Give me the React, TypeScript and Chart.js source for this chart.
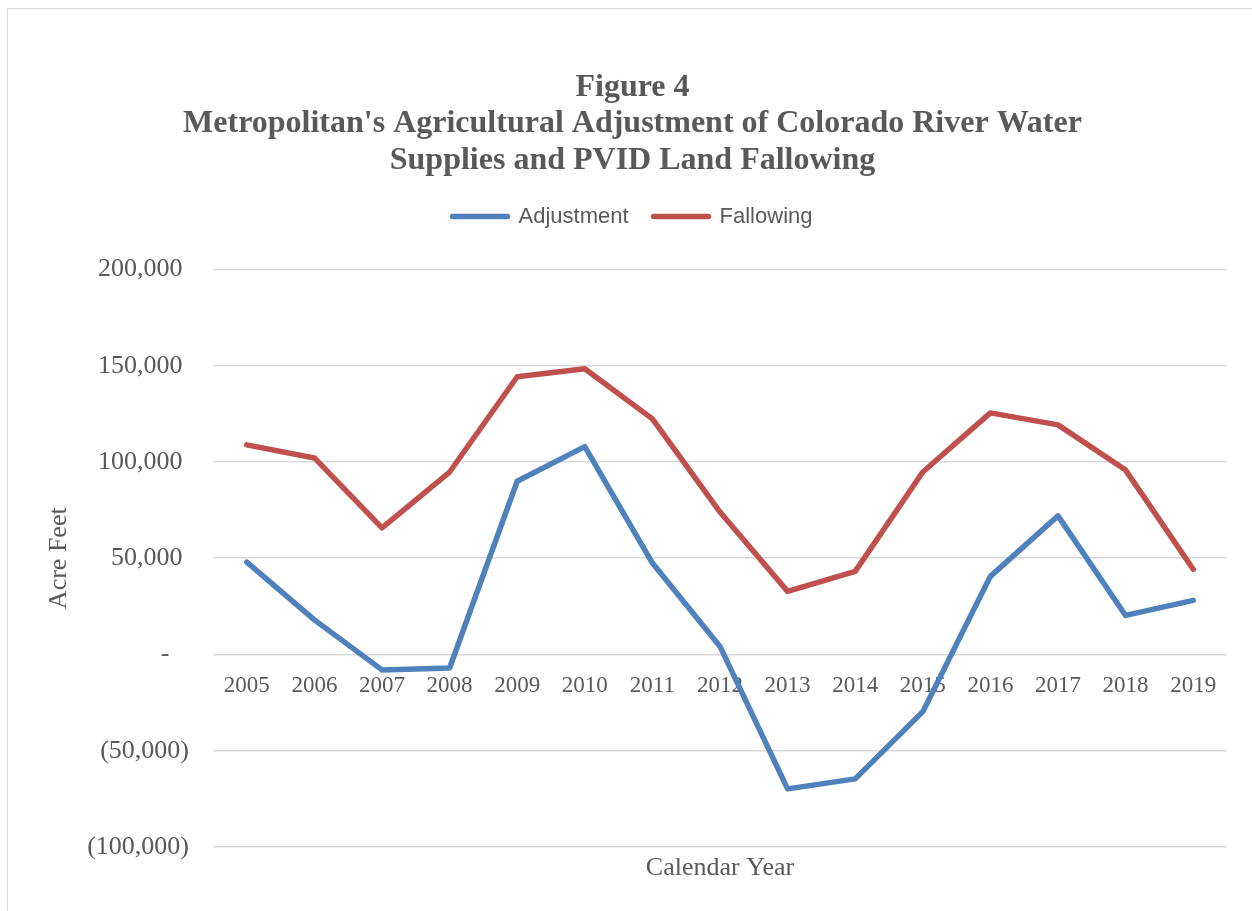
import React, { useEffect, useRef } from "react";
import { Chart, registerables } from "chart.js";

Chart.register(...registerables);

const years = ["2005", "2006", "2007", "2008", "2009", "2010", "2011", "2012", "2013", "2014", "2015", "2016", "2017", "2018", "2019"];
const adjustment = [48000, 18000, -8000, -7000, 90000, 108000, 47500, 4200, -69800, -64600, -29700, 40600, 72000, 20300, 28100];
const fallowing = [108900, 102100, 65800, 94800, 144300, 148400, 122400, 74000, 32800, 43200, 94800, 125500, 119300, 95800, 44300];
const titleLines = ["Figure 4", "Metropolitan's Agricultural Adjustment of Colorado River Water", "Supplies and PVID Land Fallowing"];
const yMin = -100000;
const yMax = 200000;
const yStep = 50000;

const GREY = "#595959";
const SERIF = "'Liberation Serif', 'Times New Roman', serif";
const SANS = "'Liberation Sans', Arial, sans-serif";

function fmt(v: number): string {
  if (v === 0) return "-   ";
  const s = Math.abs(v).toLocaleString("en-US");
  return v < 0 ? "(" + s + ")" : s + " ";
}

export default function App() {
  const ref = useRef<HTMLCanvasElement | null>(null);
  useEffect(() => {
    if (!ref.current) return;
    const chart = new Chart(ref.current, {
      type: "line",
      data: {
        labels: years,
        datasets: [
          {
            label: "Adjustment",
            data: adjustment,
            borderColor: "#4F81BD",
            backgroundColor: "#4F81BD",
            borderWidth: 5.5,
            pointRadius: 0,
            tension: 0,
            borderJoinStyle: "round",
            borderCapStyle: "round",
          },
          {
            label: "Fallowing",
            data: fallowing,
            borderColor: "#C0504D",
            backgroundColor: "#C0504D",
            borderWidth: 5.5,
            pointRadius: 0,
            tension: 0,
            borderJoinStyle: "round",
            borderCapStyle: "round",
          },
        ],
      },
      options: {
        responsive: false,
        animation: false,
        layout: { padding: { left: 30, right: 17, top: 0, bottom: 0 } },
        plugins: {
          tooltip: { enabled: false },
          title: {
            display: true,
            text: titleLines,
            color: GREY,
            font: { family: SERIF, size: 32, weight: "bold", lineHeight: 1.1406 },
            padding: { top: 60, bottom: 2 },
          },
          legend: {
            display: true,
            position: "top",
            weight: 1600,
            labels: {
              color: GREY,
              font: { family: SANS, size: 22 },
              boxWidth: 55,
              boxHeight: 0,
              padding: 25,
            },
          } as any,
          subtitle: {
            display: true,
            text: "",
            weight: 1500,
            font: { size: 10, lineHeight: 1 },
            padding: { top: 0, bottom: 22 },
          } as any,
        },
        scales: {
          x: {
            type: "category",
            position: { y: 0 } as any,
            offset: true,
            grid: { display: false, drawTicks: false },
            border: { display: false },
            ticks: {
              color: GREY,
              font: { family: SERIF, size: 23 },
              padding: 18,
              maxRotation: 0,
              autoSkip: false,
            },
          },
          x2: {
            type: "category",
            position: "bottom",
            offset: true,
            grid: { display: false, drawTicks: false },
            border: { display: false },
            ticks: { display: false },
            title: {
              display: true,
              text: "Calendar Year",
              color: GREY,
              font: { family: SERIF, size: 26 },
              padding: { top: 0, bottom: 19.5 },
            },
            afterFit: (s: any) => {
              s.height = 56;
            },
          },
          y: {
            type: "linear",
            position: "left",
            min: yMin,
            max: yMax,
            grid: { color: "#d9d9d9", lineWidth: 1.5, drawTicks: false },
            border: { display: false },
            ticks: {
              stepSize: yStep,
              color: GREY,
              font: { family: SERIF, size: 26 },
              padding: 24,
              callback: (v: any) => fmt(Number(v)),
            },
            title: {
              display: true,
              text: "Acre Feet",
              color: GREY,
              font: { family: SERIF, size: 26 },
              padding: { top: 6, bottom: 0 },
            },
            afterFit: (s: any) => {
              s.width = 175;
            },
          },
        },
      },
    });
    return () => chart.destroy();
  }, []);
  return (
    <div
      style={{
        position: "fixed",
        left: 7,
        top: 8,
        width: 1300,
        height: 1000,
        borderTop: "1px solid #d9d9d9",
        borderLeft: "1px solid #d9d9d9",
        background: "#fff",
      }}
    >
      <canvas ref={ref} width={1236} height={894} style={{ display: "block" }} />
    </div>
  );
}
